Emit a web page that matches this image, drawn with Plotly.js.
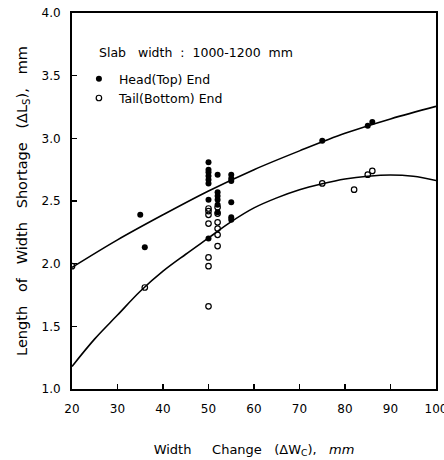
<!DOCTYPE html>
<html>
<head>
<meta charset="utf-8">
<script src="https://cdn.plot.ly/plotly-3.0.1.min.js"></script>
<style>html,body{margin:0;padding:0;background:#fff;}#chart{width:444px;height:460px;}</style>
</head>
<body>
<div id="chart"></div>
<script>
// Measured points
const headX = [35, 36, 50, 50, 50, 50, 50, 50, 50, 50, 52, 52, 52, 52, 52, 52, 55, 55, 55, 55, 55, 55, 75, 85, 86];
const headY = [2.39, 2.13, 2.81, 2.75, 2.73, 2.70, 2.67, 2.64, 2.51, 2.20, 2.71, 2.57, 2.54, 2.51, 2.47, 2.41, 2.71, 2.68, 2.66, 2.49, 2.37, 2.35, 2.98, 3.10, 3.13];
const tailX = [20, 36, 50, 50, 50, 50, 50, 50, 50, 52, 52, 52, 52, 52, 52, 75, 82, 85, 86];
const tailY = [1.98, 1.81, 2.44, 2.42, 2.39, 2.32, 2.05, 1.98, 1.66, 2.45, 2.40, 2.33, 2.28, 2.23, 2.14, 2.64, 2.59, 2.71, 2.74];
// Fitted curves
const headCurveX = [20, 30, 40, 50, 60, 70, 80, 90, 100];
const headCurveY = [1.97, 2.19, 2.39, 2.58, 2.75, 2.90, 3.04, 3.155, 3.255];
const tailCurveX = [20, 25, 30, 35, 40, 45, 50, 55, 60, 65, 70, 75, 80, 85, 90, 95, 100];
const tailCurveY = [1.18, 1.40, 1.59, 1.78, 1.94, 2.075, 2.205, 2.335, 2.445, 2.525, 2.59, 2.637, 2.675, 2.698, 2.708, 2.697, 2.663];
const xTicks = [20, 30, 40, 50, 60, 70, 80, 90, 100];
const yTicks = [1.0, 1.5, 2.0, 2.5, 3.0, 3.5, 4.0];

const FONT = 'DejaVu Sans, sans-serif';
const S = '\u00A0';
const sp = n => S.repeat(n);

const traces = [
  {x: headCurveX, y: headCurveY, mode: 'lines', line: {color: '#000', width: 1.6, shape: 'spline'}, showlegend: false, hoverinfo: 'skip'},
  {x: tailCurveX, y: tailCurveY, mode: 'lines', line: {color: '#000', width: 1.6, shape: 'spline'}, showlegend: false, hoverinfo: 'skip'},
  {x: headX, y: headY, mode: 'markers', name: 'Head(Top) End', marker: {symbol: 'circle', size: 6, color: '#000'}},
  {x: tailX, y: tailY, mode: 'markers', name: 'Tail(Bottom) End', marker: {symbol: 'circle-open', size: 5.5, color: '#000', line: {width: 1.2, color: '#000'}}}
];

const layout = {
  width: 444, height: 460,
  margin: {l: 72, r: 8, t: 13, b: 71},
  paper_bgcolor: '#fff', plot_bgcolor: '#fff',
  font: {family: FONT, color: '#000', size: 12},
  showlegend: true,
  legend: {x: 0.019, y: 0.864, xanchor: 'left', yanchor: 'top', bgcolor: 'rgba(0,0,0,0)', font: {size: 12.5, family: FONT}, tracegroupgap: 0, itemwidth: 30},
  xaxis: {
    range: [20, 100], tickvals: xTicks, ticktext: xTicks.map(String),
    ticks: 'inside', ticklen: 5, tickwidth: 1.2, tickcolor: '#000',
    showline: true, linewidth: 2, linecolor: '#000', mirror: true,
    showgrid: false, zeroline: false, ticklabelstandoff: 8, ticklabeloverflow: 'allow',
    tickfont: {size: 12, family: FONT},
    title: {text: 'Width' + sp(5) + 'Change' + sp(3) + '(ΔW<sub>C</sub>),' + sp(3) + '<i>mm</i>', font: {size: 13, family: FONT}, standoff: 29}
  },
  yaxis: {
    range: [1.0, 4.0], tickvals: yTicks, ticktext: yTicks.map(v => v.toFixed(1)),
    ticks: 'inside', ticklen: 5, tickwidth: 1.2, tickcolor: '#000',
    showline: true, linewidth: 2, linecolor: '#000', mirror: true,
    showgrid: false, zeroline: false, ticklabelstandoff: 7,
    tickfont: {size: 12, family: FONT},
    title: {text: 'Length' + sp(3) + 'of' + sp(3) + 'Width' + sp(3) + 'Shortage' + sp(3) + '(ΔL<sub>S</sub>),' + sp(3) + 'mm', font: {size: 14.5, family: FONT}, standoff: 10}
  },
  annotations: [
    {xref: 'paper', yref: 'paper', x: 0.068, y: 0.895, xanchor: 'left', yanchor: 'middle', showarrow: false,
     text: 'Slab' + sp(3) + 'width' + sp(2) + ':' + sp(2) + '1000-1200' + sp(2) + 'mm', font: {size: 12.5, family: FONT}}
  ]
};

Plotly.newPlot('chart', traces, layout, {staticPlot: true, displayModeBar: false});
</script>
</body>
</html>
